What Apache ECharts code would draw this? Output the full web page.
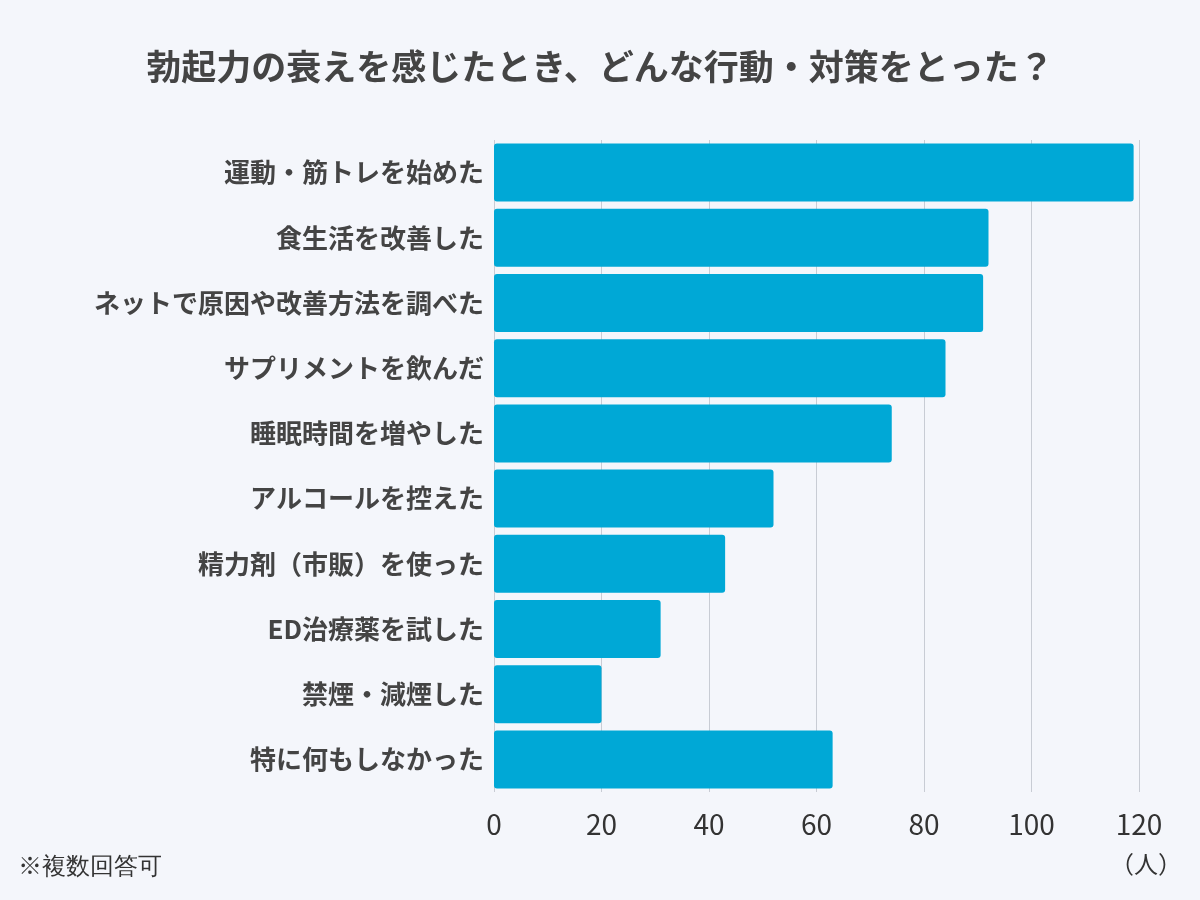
<!DOCTYPE html>
<html lang="ja">
<head>
<meta charset="UTF-8">
<title>勃起力の衰え</title>
<style>
  html, body { margin: 0; width: 100%; height: 100%; background: #f4f6fb; }
  #container { width: 1200px; height: 900px; }
</style>
<script src="https://cdn.jsdelivr.net/npm/echarts@6/dist/echarts.min.js"></script>
</head>
<body>
<div id="container"></div>
<script>
var categories = ['運動・筋トレを始めた', '食生活を改善した', 'ネットで原因や改善方法を調べた',
  'サプリメントを飲んだ', '睡眠時間を増やした', 'アルコールを控えた', '精力剤（市販）を使った',
  'ED治療薬を試した', '禁煙・減煙した', '特に何もしなかった'];
var counts = [119, 92, 91, 84, 74, 52, 43, 31, 20, 63];
var xTicks = [0, 20, 40, 60, 80, 100, 120];

var font = '"Noto Sans CJK JP", "Noto Sans", sans-serif';
var chart = echarts.init(document.getElementById('container'));
chart.setOption({
  backgroundColor: '#f4f6fb',
  animation: false,
  textStyle: { fontFamily: font },
  title: {
    text: '勃起力の衰えを感じたとき、どんな行動・対策をとった？',
    left: 'center', top: 44,
    textStyle: { fontSize: 35, fontWeight: 'bold', color: '#444', fontFamily: font }
  },
  graphic: [
    { type: 'text', left: 18, top: 855, style: { text: '※複数回答可', fontSize: 24, fill: '#333', font: '24px ' + font } },
    { type: 'text', right: 18, top: 852, style: { text: '（人）', fill: '#333', font: '24px ' + font } }
  ],
  grid: { left: 494, right: 61, top: 140, bottom: 108 },
  xAxis: {
    type: 'value', min: 0, max: 120, interval: xTicks[1] - xTicks[0],
    axisLine: { show: false }, axisTick: { show: false },
    splitLine: { lineStyle: { color: '#c8ccd4', width: 1 } },
    axisLabel: { fontSize: 28, color: '#333', margin: 18, fontFamily: font }
  },
  yAxis: {
    type: 'category', data: categories, inverse: true,
    axisLine: { show: false }, axisTick: { show: false },
    axisLabel: { fontSize: 26, fontWeight: 'bold', color: '#444', margin: 10, fontFamily: font }
  },
  series: [{
    type: 'bar', data: counts, barCategoryGap: '11%',
    itemStyle: { color: '#00a8d6', borderRadius: 3 }
  }]
});
</script>
</body>
</html>
